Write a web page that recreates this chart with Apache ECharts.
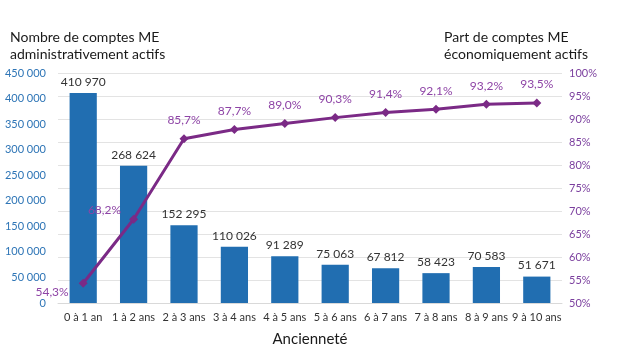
<!DOCTYPE html>
<html><head><meta charset="utf-8">
<script src="https://cdn.jsdelivr.net/npm/echarts@6/dist/echarts.min.js"></script>
<style>html,body{margin:0;padding:0;background:#fff}#c{width:626px;height:363px}</style>
</head><body><div id="c"></div>
<script>
const categories = ['0 à 1 an','1 à 2 ans','2 à 3 ans','3 à 4 ans','4 à 5 ans','5 à 6 ans','6 à 7 ans','7 à 8 ans','8 à 9 ans','9 à 10 ans'];
const comptesActifs = [410970, 268624, 152295, 110026, 91289, 75063, 67812, 58423, 70583, 51671];
const partEconomique = [54.3, 68.2, 85.7, 87.7, 89.0, 90.3, 91.4, 92.1, 93.2, 93.5];
const leftTicks = {min: 0, max: 450000, interval: 50000};
const rightTicks = {min: 50, max: 100, interval: 5};

const FONT = 'Lato, "Open Sans", sans-serif';
const fmtNum = v => String(v).replace(/\B(?=(\d{3})+(?!\d))/g, ' ');
const fmtPct = v => v.toFixed(1).replace('.', ',') + '%';

const lineData = partEconomique.map((v, i) => {
  const d = {value: v};
  if (i === 0) d.label = {position: 'left', offset: [-2, 9]};
  if (i === 1) d.label = {position: 'left', offset: [0, -9]};
  return d;
});

const chart = echarts.init(document.getElementById('c'));
chart.setOption({
  animation: false,
  textStyle: {fontFamily: FONT},
  grid: {left: 58, right: 64, top: 73, bottom: 60},
  graphic: [
    {type: 'text', left: 10, top: 29, style: {text: 'Nombre de comptes ME\nadministrativement actifs', fontSize: 14, lineHeight: 17, fill: '#1a1a1a', fontFamily: FONT}},
    {type: 'text', left: 444, top: 29, style: {text: 'Part de comptes ME\néconomiquement actifs', fontSize: 14, lineHeight: 17, fill: '#1a1a1a', fontFamily: FONT}}
  ],
  xAxis: {
    type: 'category', data: categories,
    name: 'Ancienneté', nameLocation: 'middle', nameGap: 29,
    nameTextStyle: {fontSize: 15, color: '#1a1a1a', fontFamily: FONT},
    axisLine: {lineStyle: {color: '#d9d9d9'}}, axisTick: {show: false},
    axisLabel: {fontSize: 11, color: '#333333', margin: 9, interval: 0, fontFamily: FONT}
  },
  yAxis: [
    {type: 'value', min: leftTicks.min, max: leftTicks.max, interval: leftTicks.interval, alignTicks: false,
     splitLine: {show: false}, axisLine: {show: false}, axisTick: {show: false},
     axisLabel: {fontSize: 11, color: '#2e75b6', margin: 12, formatter: fmtNum, fontFamily: FONT}},
    {type: 'value', min: rightTicks.min, max: rightTicks.max, interval: rightTicks.interval, alignTicks: false,
     splitLine: {show: true, lineStyle: {color: '#e3e3e3'}}, axisLine: {show: false}, axisTick: {show: false},
     axisLabel: {fontSize: 11, color: '#7b3f9e', margin: 7, formatter: v => v + '%', fontFamily: FONT}}
  ],
  series: [
    {type: 'bar', yAxisIndex: 0, data: comptesActifs, barWidth: '54%',
     itemStyle: {color: '#216eb1'},
     label: {show: true, position: 'top', distance: 5, fontSize: 12, color: '#333333', formatter: p => fmtNum(p.value), fontFamily: FONT}},
    {type: 'line', yAxisIndex: 1, data: lineData, symbol: 'diamond', symbolSize: 9,
     lineStyle: {color: '#7b2a86', width: 3}, itemStyle: {color: '#7b2a86'},
     label: {show: true, position: 'top', distance: 8, fontSize: 12, color: '#8e44a6', formatter: p => fmtPct(p.value), fontFamily: FONT},
     z: 5}
  ]
});
</script></body></html>
